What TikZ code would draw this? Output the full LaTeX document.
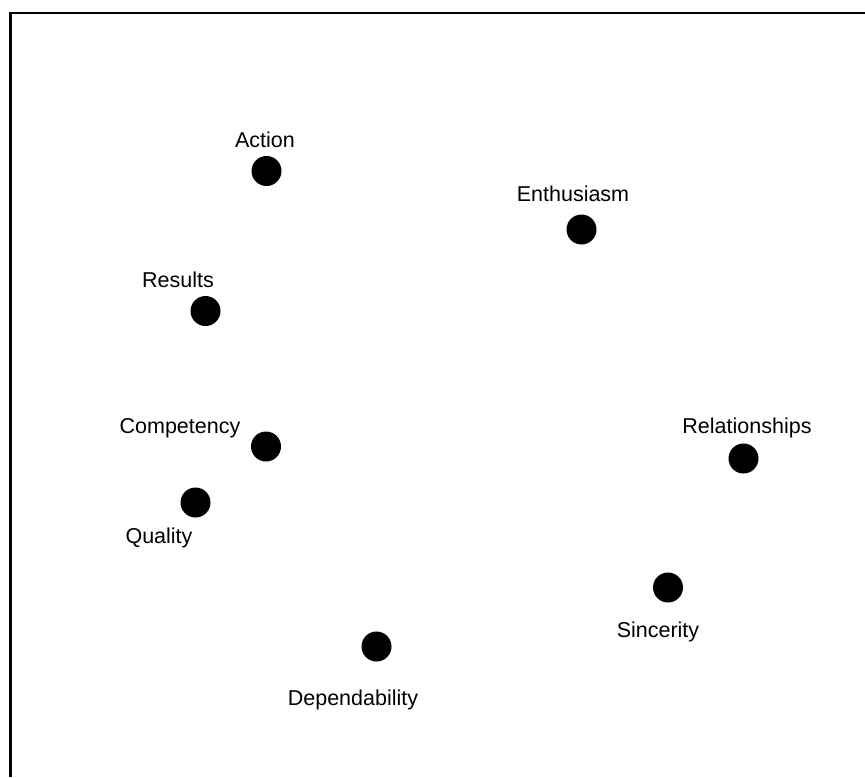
\documentclass[tikz,border=0pt]{standalone}
\usepackage{fontspec}
\setmainfont{Liberation Sans}
\usetikzlibrary{shapes,positioning}
\tikzset{dot/.style={circle, fill=black, inner sep=0pt, minimum size=30pt}}
\tikzstyle{lbl}=[inner sep=0pt, anchor=base, font=\fontsize{21.5}{24}\selectfont]

\begin{document}
\begin{tikzpicture}[x=1pt, y=-1pt]
\useasboundingbox (0,0) rectangle (865,777);
\draw[line width=2.7pt] (10.3,777) -- (10.3,13) -- (865,13);

\node[dot] (Act) at (266.5,171) {};
\node[dot] (Ent) at (581.5,229.5) {};
\node[dot] (Res) at (205.5,311) {};
\node[dot] (Com) at (266,446.5) {};
\node[dot] (Rel) at (743.5,458.5) {};
\node[dot] (Qua) at (195.5,502.5) {};
\node[dot] (Sin) at (668,587.5) {};
\node[dot] (Dep) at (376.5,646.5) {};

\node[lbl] (ActL) at (265,147) {Action};
\node[lbl] (EntL) at (573,201.5) {Enthusiasm};
\node[lbl] (ResL) at (178,287) {Results};
\node[lbl] (ComL) at (180,433.5) {Competency};
\node[lbl] (RelL) at (747,433.5) {Relationships};
\node[lbl] (QuaL) at (159,543.5) {Quality};
\node[lbl] (SinL) at (658,637) {Sincerity};
\node[lbl] (DepL) at (353,705) {Dependability};
\end{tikzpicture}
\end{document}
